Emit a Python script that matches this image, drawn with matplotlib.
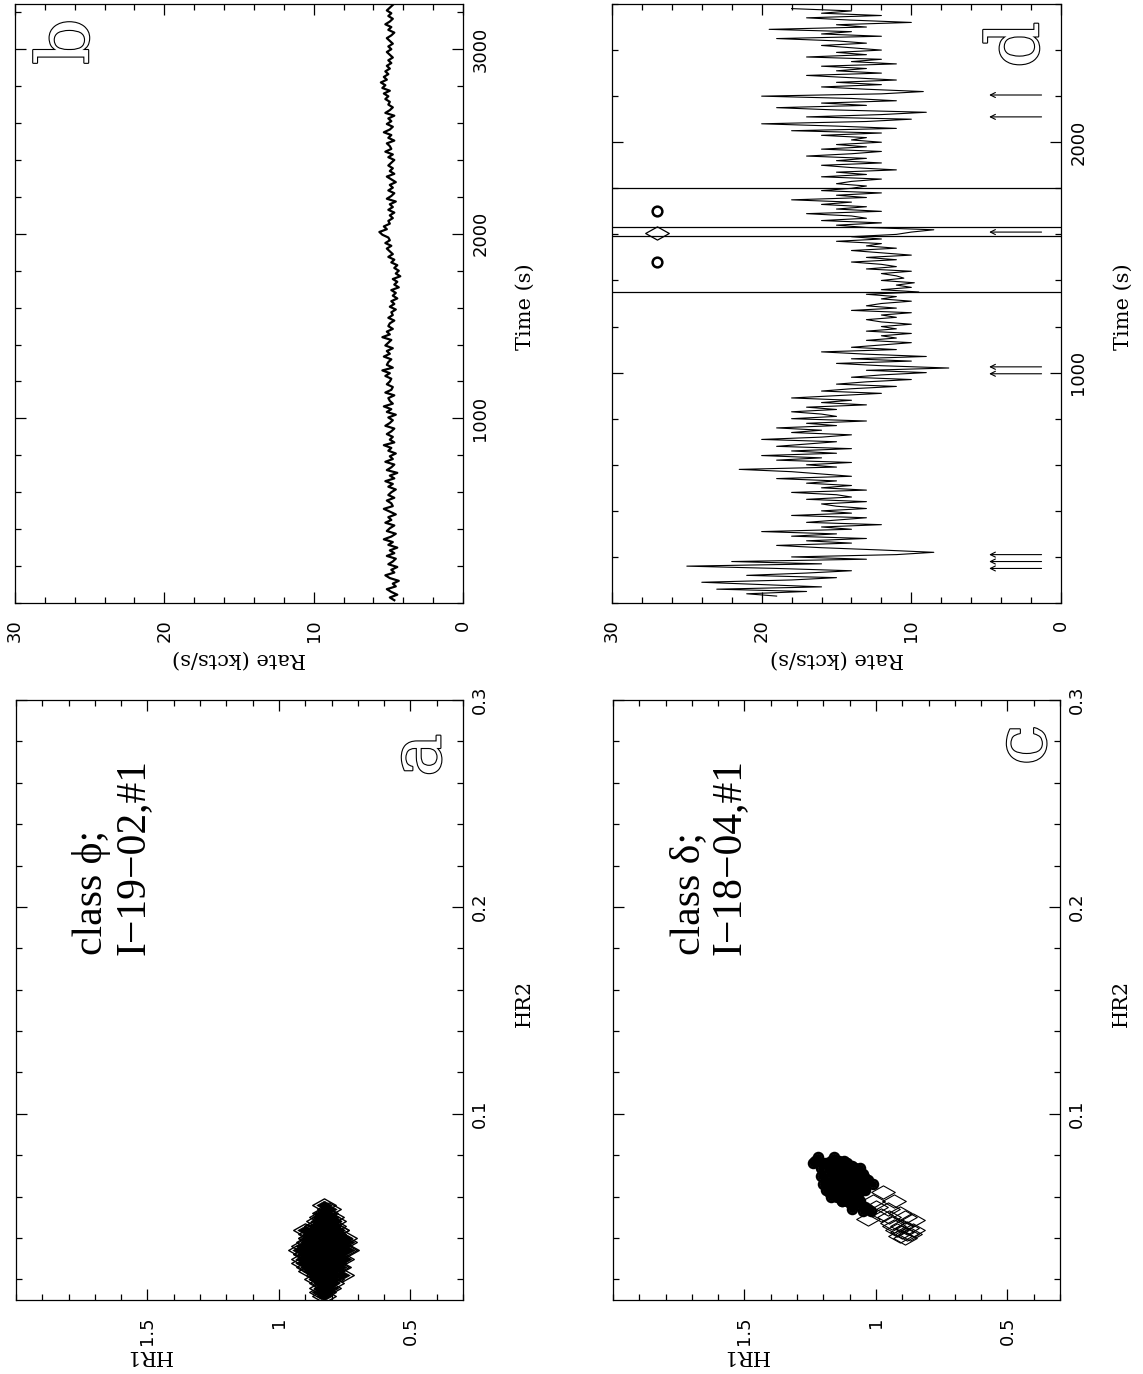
import numpy as np
import matplotlib
matplotlib.use('Agg')
import matplotlib.pyplot as plt
from matplotlib.ticker import MultipleLocator, FixedLocator, FuncFormatter
from matplotlib.path import Path
import matplotlib.patheffects as pe

# light curve, class phi (I-19-02 #1), 15 s bins
t0_b, dt_b = 15, 15
rate_b = [4.6,4.9,4.4,4.8,5.1,4.5,4.7,4.3,4.9,5.2,4.6,4.8,4.4,5.0,4.7,4.5,5.1,4.6,4.9,4.4,
          5.0,4.7,5.3,4.8,4.5,5.1,4.9,4.6,5.2,4.8,5.0,4.5,4.9,5.3,4.7,4.8,5.1,4.6,5.0,4.8,
          4.5,5.0,4.7,5.2,4.6,4.9,4.4,5.1,4.8,4.6,5.2,4.7,4.9,4.5,5.0,4.8,5.3,4.6,4.9,4.7,
          5.1,4.8,4.6,5.2,4.9,4.7,5.0,4.5,5.1,4.8,5.3,4.7,4.9,5.0,4.6,5.2,4.8,4.7,5.1,4.9,
          4.8,5.2,4.9,5.4,4.7,5.1,5.0,4.8,5.3,4.9,5.1,4.7,5.2,5.0,4.8,5.4,4.9,5.1,4.7,5.0,
          4.9,4.6,5.0,4.7,4.8,4.5,4.9,4.6,4.8,4.4,4.7,4.5,4.8,4.3,4.6,4.4,4.7,4.2,4.5,4.3,
          4.6,4.4,4.8,4.6,5.0,4.7,4.9,5.1,4.8,5.2,4.9,5.0,5.4,5.6,5.1,5.3,4.9,5.0,4.7,4.9,
          4.6,5.0,4.7,4.9,4.5,5.1,4.8,4.6,5.0,4.7,4.9,4.5,4.8,5.1,4.6,4.9,4.7,5.0,4.8,4.6,
          5.0,4.7,5.2,4.8,4.9,5.1,4.6,5.0,4.8,5.3,4.9,4.7,5.1,4.8,5.0,4.6,5.2,4.9,4.7,5.0,
          4.9,5.2,5.0,5.3,4.9,5.4,5.2,5.5,5.1,5.3,5.0,5.2,4.9,5.1,4.8,5.0,4.7,4.9,5.1,4.8,
          5.0,4.7,4.9,5.1,4.8,4.6,5.0,4.8,5.2,4.9,4.7,5.0,4.8,5.1,4.9,4.7]

# light curve, class delta (I-18-04 #1), 10 s bins
t0_d, dt_d = 30, 10
rate_d = [19,21,17,23,16,20,24,18,15,21,17,14,19,25,16,22,13,18,11,8.5,
          12,16,19,14,17,13,18,15,20,14,16,12,17,15,13,18,14,16,13,15,
          16,13,17,14,15,18,13,16,14,17,15,19,14,16,18,21.5,15,17,14,19,
          16,20,15,18,14,19,17,15,20,16,14,18,16,19,15,17,13,18,15,16,
          18,15,17,13,16,14,18,15,12,16,14,11,15,13,10,14,12,9,13,7.5,
          12,15,10,14,9,13,16,11,14,12,10,13,11,12,10,13,11,12,10,12,
          13,11,12,10,14,11,13,12,10,12,11,13,9.5,12,10,11,9.8,12,10.5,11,
          12,10,13,11,12,14,11,13,10,12,14,11,13,12,15,12,14,11,10,8.5,
          13,15,12,16,13,14,17,12,15,13,16,14,18,13,15,12,16,14,13,15,
          14,12,16,13,15,11,14,16,12,15,13,17,14,12,16,13,15,12,14,13,
          16,12,18,11,15,20,13,10,17,12,9,15,19,13,16,11,14,20,12,9.2,
          13,16,12,15,11,14,17,12,15,13,16,11,14,12,17,13,15,12,14,16,
          13,15,19,12,16,14,19.5,13,15,10,14,17,12,16,14,18]
cut_times_d = [1348, 1591, 1630, 1800]
circle_times_d = [1478, 1700]
diamond_times_d = [1604]
marker_rate_d = 27
arrow_times_d = [150, 180, 210, 995, 1025, 1610, 2110, 2205]

# colour-colour points, class phi
hr1_a = [0.83,0.80,0.86,0.78,0.88,0.82,0.84,0.79,0.87,0.81,
         0.85,0.77,0.89,0.83,0.80,0.86,0.82,0.76,0.90,0.84,
         0.81,0.85,0.79,0.87,0.83,0.75,0.91,0.82,0.86,0.80,
         0.84,0.78,0.88,0.81,0.85,0.83,0.79,0.87,0.82,0.84,
         0.80,0.86,0.77,0.89,0.83,0.81,0.85,0.78,0.88,0.82,
         0.84,0.80,0.86,0.83,0.76,0.90,0.81,0.85,0.79,0.87,
         0.82,0.84,0.78,0.88,0.83,0.80,0.86,0.81,0.85,0.74,
         0.92,0.83,0.79,0.87,0.82,0.84,0.80,0.86,0.77,0.89,
         0.83,0.81,0.85,0.78,0.88,0.82,0.84,0.80,0.86,0.83,
         0.75,0.91,0.82,0.85,0.79,0.87,0.81,0.84,0.83,0.80,
         0.86,0.82,0.78,0.88,0.84,0.81,0.85,0.83,0.79,0.87,
         0.82,0.84,0.81,0.85,0.83,0.80,0.86,0.82,0.84,0.83,
         0.81,0.85,0.82,0.84,0.80,0.86,0.83,0.82,0.84,0.81,
         0.85,0.83,0.79,0.87,0.82,0.84,0.83,0.81,0.85,0.82,
         0.84,0.80,0.86,0.83,0.82,0.84,0.81,0.85,0.83,0.82,
         0.91,0.75,0.90,0.76,0.83,0.84,0.82,0.85,0.81,0.83,
         0.80,0.86,0.82,0.84,0.83,0.81,0.85,0.82,0.84,0.83,
         0.79,0.87,0.81,0.85,0.83,0.82,0.84,0.80,0.86,0.83,
         0.82,0.84,0.81,0.85,0.83,0.80,0.86,0.82,0.84,0.83]
hr2_a = [0.034,0.028,0.040,0.036,0.030,0.022,0.046,0.032,0.038,0.044,
         0.026,0.030,0.034,0.052,0.018,0.024,0.040,0.038,0.032,0.014,
         0.048,0.036,0.042,0.026,0.020,0.034,0.036,0.030,0.046,0.050,
         0.024,0.044,0.040,0.016,0.032,0.056,0.022,0.044,0.038,0.028,
         0.036,0.030,0.026,0.038,0.012,0.042,0.048,0.040,0.024,0.026,
         0.042,0.020,0.034,0.030,0.030,0.032,0.054,0.022,0.028,0.034,
         0.050,0.018,0.044,0.040,0.038,0.040,0.028,0.024,0.036,0.034,
         0.034,0.024,0.048,0.044,0.016,0.050,0.032,0.046,0.040,0.026,
         0.044,0.020,0.030,0.030,0.036,0.036,0.038,0.042,0.020,0.028,
         0.038,0.030,0.052,0.042,0.036,0.032,0.026,0.032,0.046,0.038,
         0.036,0.040,0.026,0.042,0.020,0.032,0.044,0.014,0.046,0.030,
         0.030,0.036,0.040,0.026,0.034,0.028,0.038,0.044,0.022,0.032,
         0.036,0.040,0.026,0.030,0.042,0.034,0.024,0.038,0.044,0.030,
         0.036,0.028,0.034,0.032,0.048,0.020,0.040,0.026,0.044,0.034,
         0.030,0.038,0.040,0.022,0.036,0.046,0.032,0.028,0.042,0.018,
         0.028,0.040,0.044,0.022,0.050,0.016,0.030,0.036,0.046,0.040,
         0.024,0.028,0.034,0.042,0.026,0.032,0.044,0.038,0.024,0.046,
         0.036,0.040,0.030,0.022,0.038,0.028,0.034,0.044,0.030,0.020,
         0.042,0.026,0.048,0.034,0.030,0.036,0.042,0.032,0.038,0.028]

# colour-colour points, class delta: circles and diamonds
hr1_c_o = [1.22,1.19,1.16,1.13,1.10,1.07,1.04,1.02,1.21,1.18,
           1.15,1.12,1.09,1.06,1.03,1.20,1.17,1.14,1.11,1.08,
           1.05,1.01,1.23,1.16,1.13,1.10,1.07,1.15,1.12,1.09,
           1.06,1.18,1.14,1.11,1.08,1.05,1.19,1.13,1.10,1.07,
           1.04,1.24,1.17,1.12,1.09,1.06,1.15,1.11,1.08,1.14,
           1.10,1.13,1.16,1.20,1.05,1.03,1.18,1.12,1.09,1.15,
           1.18,1.15,1.12,1.09,1.06,1.14,1.11,1.08,1.16,1.13,
           1.10,1.07,1.12,1.15,1.09,1.11,1.17,1.13,1.10,1.14,
           1.08,1.12,1.16,1.19,1.06,1.11,1.14,1.09,1.13,1.10,
           1.21,1.04,1.12,1.15,1.08,1.17,1.11,1.13,1.07,1.16]
hr2_c_o = [0.079,0.063,0.079,0.058,0.070,0.061,0.069,0.053,0.074,0.066,
           0.060,0.075,0.054,0.074,0.054,0.076,0.060,0.077,0.065,0.071,
           0.053,0.066,0.077,0.064,0.076,0.057,0.073,0.074,0.060,0.068,
           0.058,0.062,0.064,0.076,0.058,0.071,0.076,0.070,0.074,0.056,
           0.055,0.076,0.077,0.068,0.061,0.067,0.066,0.058,0.074,0.067,
           0.067,0.058,0.073,0.066,0.063,0.068,0.071,0.077,0.072,0.077,
           0.075,0.064,0.064,0.058,0.069,0.073,0.062,0.067,0.068,0.062,
           0.061,0.068,0.071,0.071,0.075,0.071,0.066,0.066,0.066,0.060,
           0.062,0.066,0.062,0.067,0.064,0.068,0.070,0.065,0.072,0.070,
           0.070,0.063,0.074,0.071,0.069,0.073,0.067,0.064,0.066,0.074]
hr1_c_d = [0.975,1.00,1.03,0.955,0.91,0.86,0.93,0.98,0.94,0.89,0.92,
           0.90,0.88,0.91,0.87,0.89,0.93,0.86,0.90,0.88,0.95,1.01]
hr2_c_d = [0.062,0.055,0.049,0.054,0.052,0.0485,0.058,0.051,0.047,0.050,0.044,
           0.043,0.045,0.041,0.042,0.040,0.046,0.044,0.046,0.042,0.050,0.058]

W, H = 1143, 1374
plt.rcParams['font.family'] = 'DejaVu Sans'
plt.rcParams['font.size'] = 13
fig = plt.figure(figsize=(W / 100, H / 100), dpi=100)

def box(l, t, r, b):
    return [l / W, 1 - b / H, (r - l) / W, (b - t) / H]

diamond = Path([(-1, 0), (0, 0.56), (1, 0), (0, -0.56), (-1, 0)],
               [Path.MOVETO, Path.LINETO, Path.LINETO, Path.LINETO, Path.CLOSEPOLY])

def style(ax, xmaj, xmin, ymaj, ymin):
    ax.xaxis.set_major_locator(FixedLocator(xmaj))
    ax.xaxis.set_minor_locator(MultipleLocator(xmin))
    ax.yaxis.set_major_locator(FixedLocator(ymaj))
    ax.yaxis.set_minor_locator(MultipleLocator(ymin))
    fmt = FuncFormatter(lambda v, p: f'{v:g}')
    ax.xaxis.set_major_formatter(fmt)
    ax.yaxis.set_major_formatter(fmt)
    ax.tick_params(which='both', direction='in', top=True, bottom=True, left=True, right=True,
                   labelleft=False, labelright=True, width=0.9, color='k')
    ax.tick_params(which='major', length=8)
    ax.tick_params(which='minor', length=4)
    ax.tick_params(axis='x', labelrotation=90, pad=12)
    ax.tick_params(axis='y', labelrotation=90, pad=6)
    plt.setp(ax.get_yticklabels(), va='center')
    for s in ax.spines.values():
        s.set_linewidth(0.9)

def labels(ax, bottom, bx, right):
    ax.text(bx, -0.093, bottom, rotation=180, ha='center', va='center',
            transform=ax.transAxes, family='DejaVu Serif', fontsize=15)
    ax.text(1.138, 0.495, right, rotation=90, ha='center', va='center',
            transform=ax.transAxes, family='DejaVu Serif', fontsize=15)

def letter(ax, x, y, s):
    ax.text(x, y, s, rotation=90, ha='center', va='center', transform=ax.transAxes,
            family='DejaVu Serif', fontsize=52, color='white',
            path_effects=[pe.withStroke(linewidth=1.6, foreground='k')])

def note(ax, s):
    ax.text(0.215, 0.738, s, rotation=90, ha='center', va='center', multialignment='left',
            transform=ax.transAxes, family=['Liberation Serif', 'DejaVu Serif'],
            fontsize=30, linespacing=1.1)

# b: rate vs time, drawn rotated
axb = fig.add_axes(box(15, 4, 463, 603))
time_b = t0_b + dt_b * np.arange(len(rate_b))
axb.plot(rate_b, time_b, color='k', lw=1.6)
axb.set_xlim(30, 0)
axb.set_ylim(0, 3245)
style(axb, [0, 10, 20, 30], 2, [1000, 2000, 3000], 200)
labels(axb, 'Rate (kcts/s)', 0.5, 'Time (s)')
letter(axb, 0.118, 0.937, 'b')

# d
axd = fig.add_axes(box(612, 4, 1061, 603))
time_d = t0_d + dt_d * np.arange(len(rate_d))
axd.plot(rate_d, time_d, color='k', lw=0.8)
for t in cut_times_d:
    axd.axhline(t, color='k', lw=0.9)
axd.plot([marker_rate_d] * len(circle_times_d), circle_times_d, ls='none', marker='o',
         ms=7, mfc='none', mec='k', mew=1.8)
axd.plot([marker_rate_d] * len(diamond_times_d), diamond_times_d, ls='none', marker=diamond,
         ms=17, mfc='none', mec='k', mew=0.9)
for t in arrow_times_d:
    axd.annotate('', xy=(4.8, t), xytext=(1.3, t),
                 arrowprops=dict(arrowstyle='->', color='k', lw=0.8, shrinkA=0, shrinkB=0,
                                 mutation_scale=9))
axd.set_xlim(30, 0)
axd.set_ylim(0, 2600)
style(axd, [0, 10, 20, 30], 2, [1000, 2000], 200)
labels(axd, 'Rate (kcts/s)', 0.5, 'Time (s)')
letter(axd, 0.904, 0.932, 'd')

# a: HR1 vs HR2, drawn rotated; overlapping outlines pile up into a solid core
axa = fig.add_axes(box(16, 700, 463, 1300))
axa.plot(hr1_a, hr2_a, ls='none', marker=diamond, ms=17, mfc='none', mec='k', mew=1.0)
axa.plot(hr1_a, hr2_a, ls='none', marker=diamond, ms=11, mfc='k', mec='k', mew=0.5)
axa.set_xlim(2.0, 0.3)
axa.set_ylim(0.01, 0.30)
style(axa, [0.5, 1.0, 1.5], 0.1, [0.1, 0.2, 0.3], 0.02)
labels(axa, 'HR1', 0.295, 'HR2')
letter(axa, 0.904, 0.908, 'a')
note(axa, 'class \u03d5;\nI\u221219\u221202,#1')

# c
axc = fig.add_axes(box(613, 700, 1060, 1300))
axc.plot(hr1_c_d, hr2_c_d, ls='none', marker=diamond, ms=17, mfc='none', mec='k', mew=0.8)
axc.plot(hr1_c_o, hr2_c_o, ls='none', marker='o', ms=6.5, mfc='none', mec='k', mew=1.8)
axc.plot(hr1_c_o, hr2_c_o, ls='none', marker='o', ms=5, mfc='k', mec='k', mew=0.5)
axc.set_xlim(2.0, 0.3)
axc.set_ylim(0.01, 0.30)
style(axc, [0.5, 1.0, 1.5], 0.1, [0.1, 0.2, 0.3], 0.02)
labels(axc, 'HR1', 0.295, 'HR2')
letter(axc, 0.922, 0.925, 'c')
note(axc, 'class \u03b4;\nI\u221218\u221204,#1')

fig.savefig('out.png', dpi=100)
